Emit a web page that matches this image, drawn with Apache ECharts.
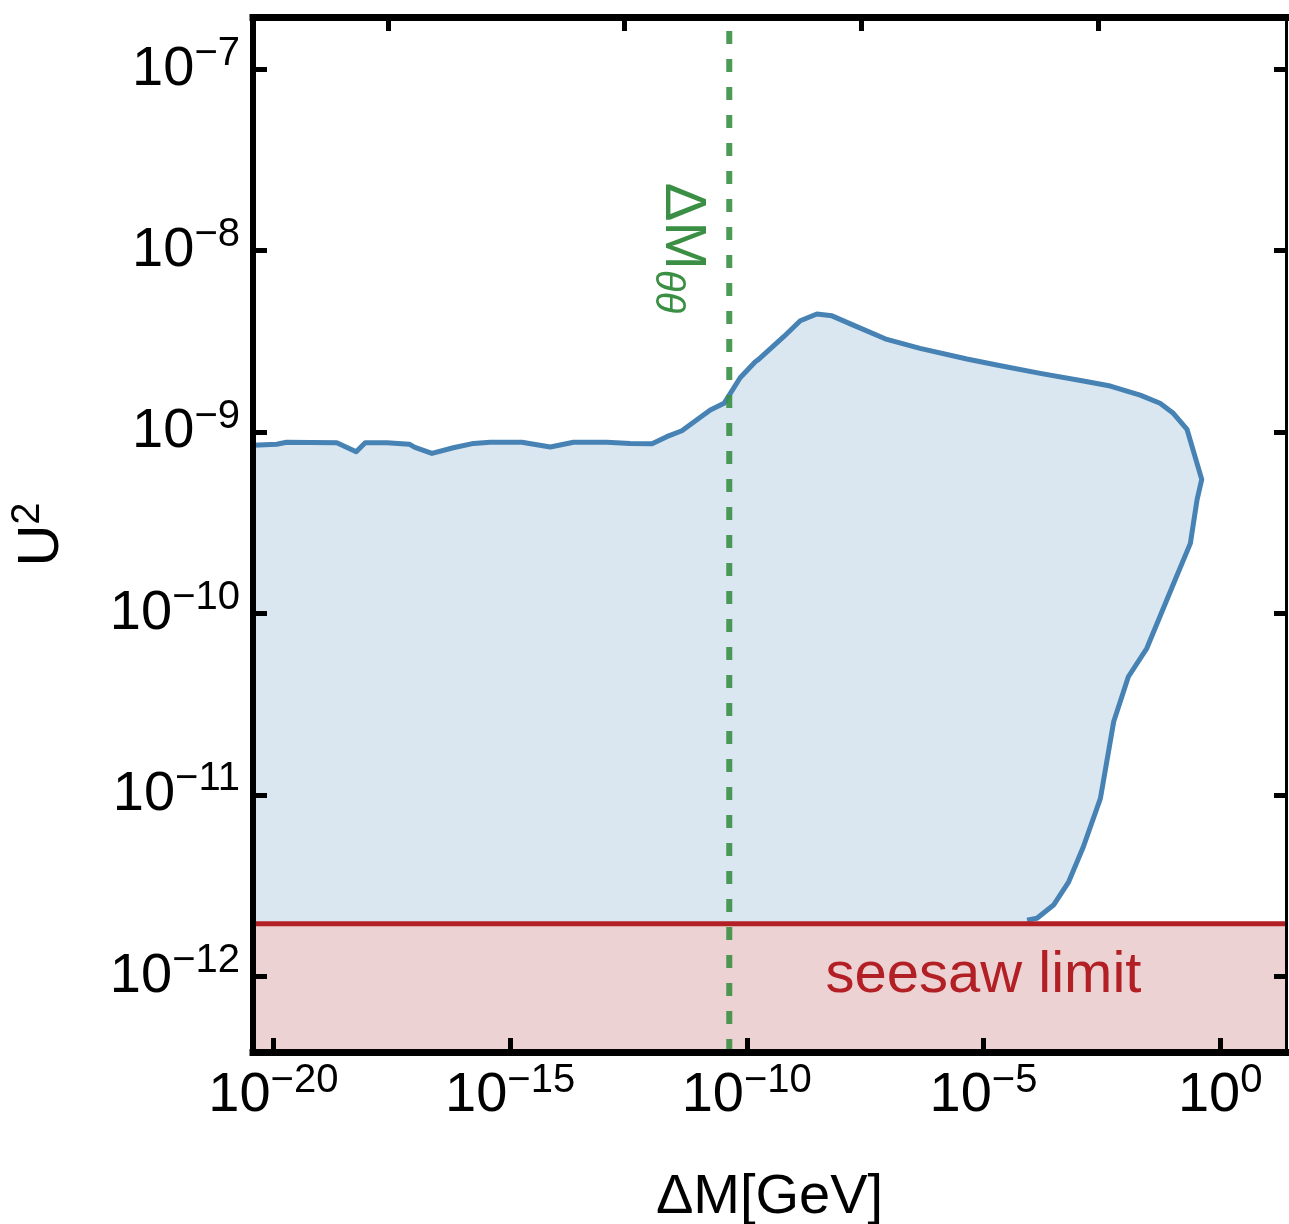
<!DOCTYPE html>
<html><head><meta charset="utf-8">
<script src="https://cdn.jsdelivr.net/npm/echarts@6/dist/echarts.min.js"></script>
<style>html,body{margin:0;padding:0;background:#fff}#c{width:1289px;height:1224px}</style>
</head><body><div id="c"></div>
<script>
// ---- data (log10 values) ----
const xTickExponents = [-20, -15, -10, -5, 0];
const yTickExponents = [-12, -11, -10, -9, -8, -7];
const topTickExponents = [-17.58, -12.58, -7.58, -2.58];
const xRange = [-20.43, 1.39];
const yRange = [-12.417, -6.713];
const boundaryLogDeltaM = [-20.43, -19.93, -19.72, -18.66, -18.25, -18.06, -17.60, -17.13, -17.01, -16.65,
  -16.20, -15.77, -15.42, -14.75, -14.15, -13.66, -12.96, -12.46, -12.00, -11.69,
  -11.37, -11.06, -10.77, -10.48, -10.14, -9.82, -9.75, -9.22, -8.87, -8.52,
  -8.20, -7.75, -7.04, -6.34, -5.35, -4.72, -3.80, -2.89, -2.32, -1.69,
  -1.27, -0.99, -0.70, -0.39, -0.49, -0.63, -0.94, -1.55, -1.94, -2.25,
  -2.53, -2.89, -3.20, -3.52, -3.87, -4.08];
const boundaryLogU2 = [-9.073, -9.068, -9.057, -9.059, -9.109, -9.059, -9.059, -9.067, -9.085, -9.118,
  -9.087, -9.063, -9.057, -9.057, -9.083, -9.057, -9.057, -9.063, -9.065, -9.026,
  -8.993, -8.934, -8.879, -8.842, -8.701, -8.613, -8.600, -8.475, -8.387, -8.350,
  -8.360, -8.411, -8.490, -8.539, -8.598, -8.631, -8.677, -8.719, -8.747, -8.797,
  -8.842, -8.897, -8.986, -9.261, -9.375, -9.614, -9.807, -10.192, -10.349, -10.597,
  -11.019, -11.286, -11.479, -11.607, -11.680, -11.690];
const seesawLogU2 = -11.71;
const deltaMThetaLog = -10.37;

const FONT = '"Liberation Sans", Arial, Helvetica, sans-serif';
const BLACK = '#000';
const GREEN = '#3A8F44';
const RED = '#B22025';

function powLabel(v) {
  const e = Math.round(v);
  const s = e < 0 ? '\u2212' + Math.abs(e) : String(e);
  return '{b|10}{s|' + s + '}';
}
const tickRich = {
  b: { fontSize: 56, lineHeight: 56, fontFamily: FONT, color: BLACK },
  s: { fontSize: 40, lineHeight: 40, fontFamily: FONT, color: BLACK, padding: [0, 0, 31, 0] }
};
const lineOff = { show: true, onZero: false };

const chart = echarts.init(document.getElementById('c'), null, { renderer: 'canvas' });
const n = boundaryLogDeltaM.length;
const boundaryData = boundaryLogDeltaM.map((x, i) => [x, boundaryLogU2[i]]);

const option = {
  animation: false,
  backgroundColor: '#fff',
  grid: { left: 253, right: 3, top: 17, bottom: 172, containLabel: false, outerBoundsMode: 'none' },
  xAxis: [
    {
      type: 'value', position: 'bottom', min: xRange[0], max: xRange[1], z: 10,
      axisLine: Object.assign({}, lineOff, { lineStyle: { color: BLACK, width: 7, cap: 'square' } }),
      axisTick: { show: true, inside: true, length: 14, lineStyle: { color: BLACK, width: 5 }, customValues: xTickExponents },
      axisLabel: { show: true, margin: 16, customValues: xTickExponents, formatter: powLabel, rich: tickRich },
      splitLine: { show: false },
      name: '\u0394M[GeV]', nameLocation: 'middle', nameGap: 118,
      nameTextStyle: { fontSize: 56, fontFamily: FONT, color: BLACK }
    },
    {
      type: 'value', position: 'top', min: xRange[0], max: xRange[1], z: 10,
      axisLine: Object.assign({}, lineOff, { lineStyle: { color: BLACK, width: 7, cap: 'square' } }),
      axisTick: { show: true, inside: true, length: 14, lineStyle: { color: BLACK, width: 5 }, customValues: topTickExponents },
      axisLabel: { show: false }, splitLine: { show: false }
    }
  ],
  yAxis: [
    {
      type: 'value', position: 'left', min: yRange[0], max: yRange[1], z: 10,
      axisLine: Object.assign({}, lineOff, { lineStyle: { color: BLACK, width: 6, cap: 'square' } }),
      axisTick: { show: true, inside: true, length: 14, lineStyle: { color: BLACK, width: 5 }, customValues: yTickExponents },
      axisLabel: { show: true, margin: 13, customValues: yTickExponents, formatter: powLabel, rich: tickRich },
      splitLine: { show: false },
      name: '{b|U}{s|2}', nameLocation: 'middle', nameGap: 182, nameRotate: 90,
      nameTextStyle: { rich: {
        b: { fontSize: 58, lineHeight: 58, fontFamily: FONT, color: BLACK },
        s: { fontSize: 40, lineHeight: 40, fontFamily: FONT, color: BLACK, padding: [0, 0, 28, 0] }
      } }
    },
    {
      type: 'value', position: 'right', min: yRange[0], max: yRange[1], z: 10,
      axisLine: Object.assign({}, lineOff, { lineStyle: { color: BLACK, width: 3, cap: 'square' } }),
      axisTick: { show: true, inside: true, length: 12, lineStyle: { color: BLACK, width: 5 }, customValues: yTickExponents },
      axisLabel: { show: false }, splitLine: { show: false }
    }
  ],
  series: [
    {
      type: 'custom', xAxisIndex: 0, yAxisIndex: 0, z: 2, silent: true,
      data: boundaryData,
      renderItem: function (params, api) {
        if (params.dataIndex !== 0) return;
        const line = boundaryData.map(p => api.coord(p));
        const poly = line.concat([api.coord([boundaryLogDeltaM[n - 1], yRange[0]]), api.coord([boundaryLogDeltaM[0], yRange[0]])]);
        return {
          type: 'group',
          children: [
            { type: 'polygon', shape: { points: poly }, style: { fill: '#DAE6F0', stroke: null } },
            { type: 'polyline', shape: { points: line }, style: { fill: null, stroke: '#4682B4', lineWidth: 5, lineJoin: 'round' } }
          ]
        };
      }
    },
    {
      type: 'line', xAxisIndex: 0, yAxisIndex: 0, z: 3, symbol: 'none', silent: true,
      data: [[xRange[0], seesawLogU2], [xRange[1], seesawLogU2]],
      lineStyle: { color: RED, width: 5 },
      areaStyle: { color: '#EDD2D3', opacity: 1, origin: 'start' }
    },
    {
      type: 'line', xAxisIndex: 0, yAxisIndex: 0, z: 4, symbol: 'none', silent: true,
      data: [[deltaMThetaLog, yRange[0]], [deltaMThetaLog, yRange[1]]],
      lineStyle: { color: GREEN, width: 6, type: [13, 15], opacity: 0.9 }
    },
    {
      type: 'scatter', xAxisIndex: 0, yAxisIndex: 0, z: 5, symbolSize: 0, silent: true,
      data: [[-5, -12]],
      itemStyle: { opacity: 1 },
      label: { show: true, position: 'inside', formatter: 'seesaw limit', fontSize: 58, fontFamily: FONT, color: RED, textBorderWidth: 0, opacity: 1 }
    },
    {
      type: 'scatter', xAxisIndex: 0, yAxisIndex: 0, z: 5, symbolSize: 0, silent: true,
      data: [[-11.365, -7.986]],
      itemStyle: { opacity: 1 },
      label: {
        show: true, position: 'inside', rotate: -90, formatter: '{b|\u0394M}{s|\u03b8\u03b8}', textBorderWidth: 0, opacity: 1,
        rich: {
          b: { fontSize: 58, lineHeight: 58, fontFamily: FONT, color: GREEN },
          s: { fontSize: 40, lineHeight: 40, fontFamily: FONT, fontStyle: 'italic', color: GREEN, padding: [30, 0, 0, 0] }
        }
      }
    }
  ]
};
chart.setOption(option);
</script></body></html>
